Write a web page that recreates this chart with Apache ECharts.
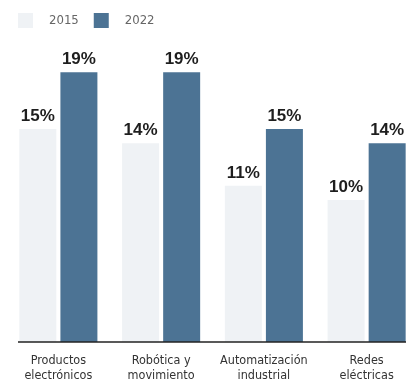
<!DOCTYPE html>
<html><head><meta charset="utf-8">
<script src="https://cdn.jsdelivr.net/npm/echarts@6/dist/echarts.min.js"></script>
<style>html,body{margin:0;padding:0;background:#fff}#c{width:406px;height:380px}</style>
</head><body><div id="c"></div>
<script>
const categories = ['Productos\nelectrónicos', 'Robótica y\nmovimiento', 'Automatización\nindustrial', 'Redes\neléctricas'];
const seriesNames = ['2015', '2022'];
const values2015 = [15, 14, 11, 10];
const values2022 = [19, 19, 15, 14];

const narrow = "'DejaVu Sans Condensed', 'Liberation Sans Narrow', sans-serif";
const chart = echarts.init(document.getElementById('c'));
const labelStyle = {show: true, position: 'top', distance: 4, formatter: '{c}%', fontFamily: "'Liberation Sans', Arial, sans-serif", fontWeight: 'bold', fontSize: 17, color: '#1e1e1e'};
chart.setOption({
  animation: false,
  backgroundColor: '#fff',
  legend: {
    left: 13, top: 8, itemWidth: 15, itemHeight: 15, itemGap: 15,
    icon: 'rect',
    textStyle: {fontFamily: narrow, fontSize: 13, color: '#666', padding: [0, 0, 0, 11]},
    data: seriesNames
  },
  grid: {left: 7, right: -12, top: 58, bottom: 38, containLabel: false, outerBoundsMode: 'none'},
  xAxis: {
    type: 'category', data: categories,
    axisLine: {show: false}, axisTick: {show: false},
    axisLabel: {fontFamily: narrow, fontSize: 12.5, color: '#333', lineHeight: 15, margin: 11, interval: 0}
  },
  yAxis: {type: 'value', min: 0, max: 20, show: false, splitLine: {show: false}},
  graphic: [{type: 'line', z: 100, shape: {x1: 18, y1: 342, x2: 406, y2: 342}, style: {stroke: '#222', lineWidth: 1.5}}],
  series: [
    {name: seriesNames[0], type: 'bar', data: values2015, barWidth: 37, barGap: '11%', itemStyle: {color: '#eff2f5'}, label: labelStyle},
    {name: seriesNames[1], type: 'bar', data: values2022, barWidth: 37, itemStyle: {color: '#4c7394'}, label: labelStyle}
  ]
});
</script></body></html>
